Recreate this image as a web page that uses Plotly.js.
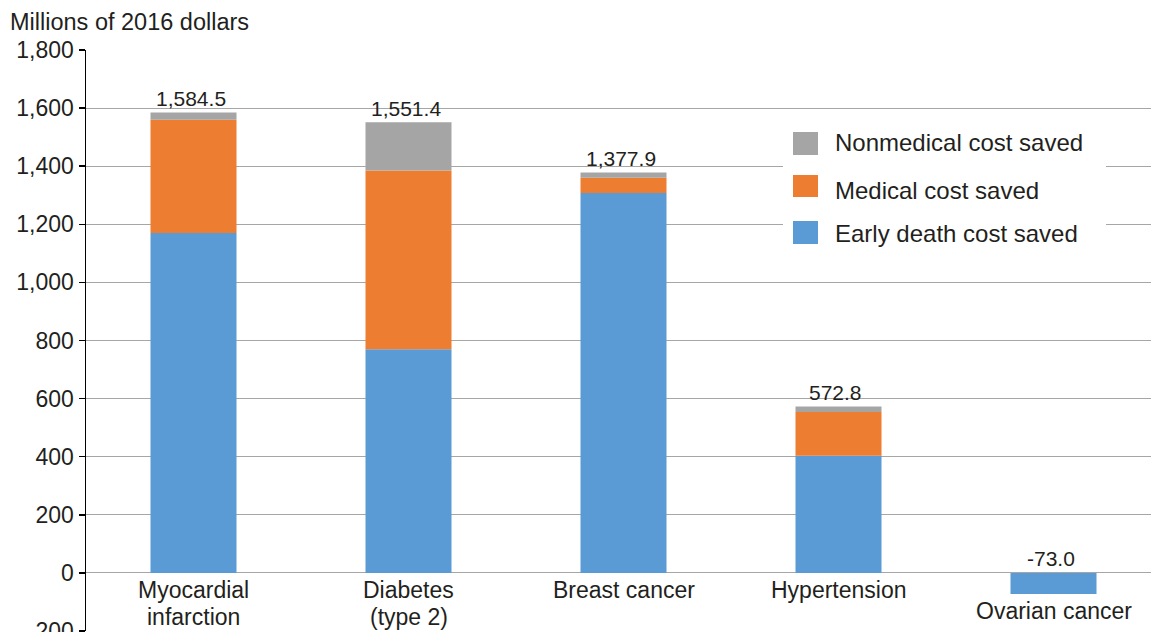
<!DOCTYPE html>
<html>
<head>
<meta charset="utf-8">
<script src="https://cdn.plot.ly/plotly-3.0.1.min.js"></script>
<style>html,body{margin:0;padding:0;background:#fff;}#chart{width:1151px;height:632px;}</style>
</head>
<body>
<div id="chart"></div>
<script>
const categories = ["Myocardial<br>infarction", "Diabetes<br>(type 2)", "Breast cancer", "Hypertension", "Ovarian cancer"];
const earlyDeath = [1170, 770, 1308, 403, -73.0];
const medical = [390, 615, 52, 151, 0];
const nonmedical = [24.5, 166.4, 17.9, 18.8, 0];
const totals = [1584.5, 1551.4, 1377.9, 572.8, -73.0];
const seriesNames = ["Nonmedical cost saved", "Medical cost saved", "Early death cost saved"];
const seriesColors = ["#A5A5A5", "#ED7D31", "#5B9BD5"];
const yTickVals = [-200, 0, 200, 400, 600, 800, 1000, 1200, 1400, 1600, 1800];
const yTickText = ["-200", "0", "200", "400", "600", "800", "1,000", "1,200", "1,400", "1,600", "1,800"];
const yTitle = "Millions of 2016 dollars";

const W = 1151, H = 632, L = 86, T = 50, B = 1, R = 0;
const plotW = W - L - R, plotH = H - T - B;
const px = x => (x - L) / plotW;
const py = y => (H - B - y) / plotH;
const xIdx = categories.map((c, i) => i);
const font = "Liberation Sans, Arial, Helvetica, sans-serif";
const txt = "#231F20";

const traces = [
  {type: "bar", x: xIdx, y: earlyDeath, name: seriesNames[2], marker: {color: seriesColors[2], line: {width: 0}}, width: 0.4, hoverinfo: "skip"},
  {type: "bar", x: xIdx, y: medical, name: seriesNames[1], marker: {color: seriesColors[1], line: {width: 0}}, width: 0.4, hoverinfo: "skip"},
  {type: "bar", x: xIdx, y: nonmedical, name: seriesNames[0], marker: {color: seriesColors[0], line: {width: 0}}, width: 0.4, hoverinfo: "skip"}
];

function fmt(v) {
  const s = Math.abs(v).toLocaleString("en-US", {minimumFractionDigits: 1, maximumFractionDigits: 1});
  return (v < 0 ? "-" : "") + s;
}

const annotations = [];
totals.forEach((t, i) => {
  annotations.push({x: i, y: Math.max(t, 0), xref: "x", yref: "y", text: fmt(t), showarrow: false,
    yanchor: "middle", yshift: 14, xshift: -3, font: {family: font, size: 21, color: txt}});
  categories[i].split("<br>").forEach((line, j) => {
    annotations.push({x: i, y: Math.min(t, 0), xref: "x", yref: "y", text: line, showarrow: false,
      yanchor: "middle", yshift: -17 - 27 * j, font: {family: font, size: 23, color: txt}});
  });
});
annotations.push({x: px(8), y: py(22), xref: "paper", yref: "paper", xanchor: "left", yanchor: "middle",
  text: yTitle, showarrow: false, font: {family: font, size: 23.5, color: txt}});

const legendY = [142, 191, 234];
const swatchY = [[132, 155], [175, 197], [221, 244]];
const shapes = [
  {type: "rect", xref: "paper", yref: "paper", x0: px(783), x1: px(1106), y0: py(255), y1: py(122),
   fillcolor: "#fff", line: {width: 0}, layer: "above"}
];
seriesNames.forEach((n, k) => {
  shapes.push({type: "rect", xref: "paper", yref: "paper", x0: px(793), x1: px(818), y0: py(swatchY[k][1]), y1: py(swatchY[k][0]),
    fillcolor: seriesColors[k], line: {width: 0}, layer: "above"});
  annotations.push({xref: "paper", yref: "paper", x: px(833), y: py(legendY[k]), xanchor: "left", yanchor: "middle",
    text: n, showarrow: false, font: {family: font, size: 24, color: txt}});
});

const layout = {
  width: W, height: H,
  margin: {l: L, r: R, t: T, b: B, pad: 0},
  paper_bgcolor: "#fff", plot_bgcolor: "#fff",
  barmode: "relative",
  showlegend: false,
  font: {family: font, color: txt},
  xaxis: {range: [-0.5, -0.5 + plotW / 215], showticklabels: false, showgrid: false, zeroline: false, showline: false, ticks: ""},
  yaxis: {range: [-200, 1800], tickvals: yTickVals, ticktext: yTickText, tickfont: {family: font, size: 23, color: txt},
    ticklabeloverflow: "allow",
    showgrid: true, gridcolor: "#A6A6A6", gridwidth: 1, zeroline: true, zerolinecolor: "#A6A6A6", zerolinewidth: 1,
    showline: true, linecolor: "#000", linewidth: 1.5, ticks: "outside", ticklen: 6, tickcolor: "#000", tickwidth: 1.5},
  annotations: annotations,
  shapes: shapes
};

Plotly.newPlot("chart", traces, layout, {staticPlot: true, displayModeBar: false});
</script>
</body>
</html>
